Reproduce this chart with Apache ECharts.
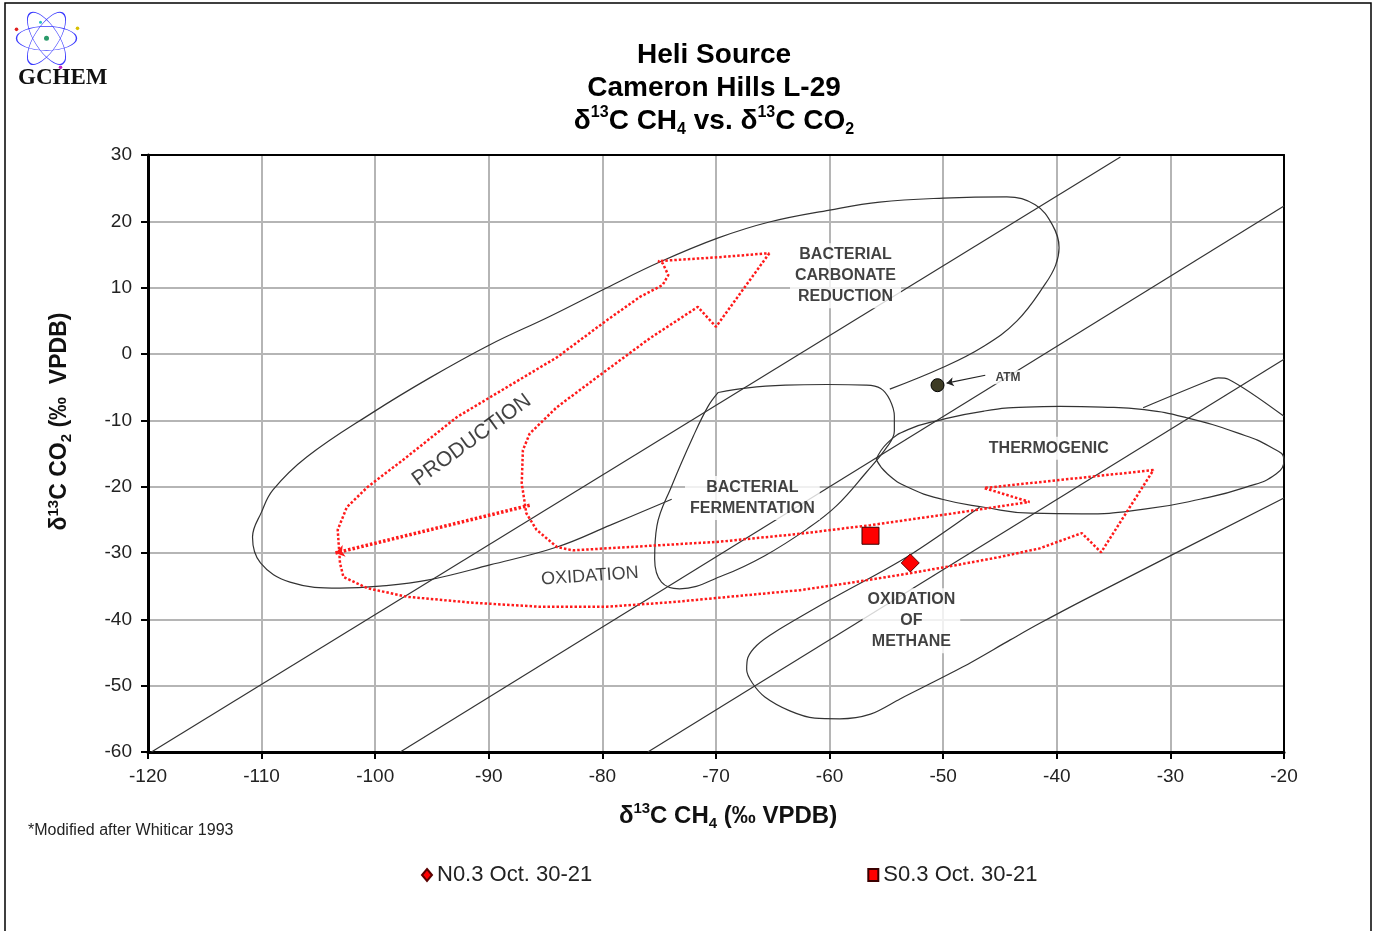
<!DOCTYPE html>
<html>
<head>
<meta charset="utf-8">
<title>Heli Source - Cameron Hills L-29</title>
<script src="https://cdn.jsdelivr.net/npm/echarts@6/dist/echarts.min.js"></script>
<style>
  html, body { margin: 0; padding: 0; background: #fff; }
  #chart { width: 1376px; height: 931px; }
</style>
</head>
<body>
<div id="chart"></div>
<script>
// axes (d13C CH4 on x, d13C CO2 on y)
var xMin = -120, xMax = -20, xStep = 10;
var yMin = -60, yMax = 30, yStep = 10;

// samples
var sampleN = [[-52.9, -31.5]];
var sampleS = [[-56.4, -27.4]];
var atmPoint = [[-50.5, -4.7]];
var atmArrow = [[-46.3, -3.2], [-49.7, -4.4]];

// fractionation lines
var lineA = [[-119.7, -60], [-34.4, 29.7]];
var lineB = [[-97.8, -60], [-20, 22.3]];
var lineC = [[-76.0, -60], [-20, -0.8]];

// fields (after Whiticar 1993)
var carbonateField = [
  [-73.9, -21.9], [-79.3, -25.8], [-84.0, -29.1], [-89.9, -31.8], [-95.4, -34.1],
  [-99.6, -35.0], [-103.1, -35.3], [-107.5, -34.4], [-110.1, -31.5], [-110.8, -27.6],
  [-110.0, -23.8], [-109.0, -20.5], [-106.0, -15.5], [-100.2, -8.8], [-95.2, -3.6],
  [-89.9, 1.4], [-84.6, 5.7], [-79.6, 10.0], [-74.9, 13.9], [-69.8, 17.5],
  [-65.3, 19.9], [-60.0, 21.7], [-55.6, 22.9], [-50.0, 23.5], [-44.4, 23.7],
  [-41.9, 22.5], [-40.4, 19.5], [-39.8, 16.0], [-40.1, 13.4], [-41.0, 10.6],
  [-43.5, 5.0], [-46.5, 1.1], [-50.0, -2.0], [-54.7, -5.3]
];
var fermentationField = [
  [-69.8, -5.8], [-67.2, -5.1], [-63.9, -4.7], [-60.2, -4.6], [-56.8, -4.7],
  [-55.5, -5.2], [-54.7, -6.9], [-54.3, -9.4], [-54.3, -11.6], [-54.9, -13.9],
  [-56.8, -17.9], [-59.4, -22.9], [-62.0, -26.4], [-65.7, -30.4], [-69.4, -33.4],
  [-73.2, -35.4], [-74.8, -34.4], [-75.4, -30.9], [-75.2, -25.9], [-73.9, -19.9],
  [-72.0, -12.4], [-70.7, -7.9], [-69.8, -5.8]
];
var thermogenicField = [
  [-55.9, -15.9], [-54.9, -13.4], [-53.1, -11.4], [-50.1, -9.9], [-46.4, -8.6],
  [-42.7, -8.0], [-39.7, -7.9], [-36.0, -8.0], [-32.3, -8.4], [-28.6, -9.6],
  [-24.1, -11.9], [-21.1, -14.1], [-20.0, -15.9], [-20.7, -18.1], [-23.4, -20.1],
  [-27.4, -21.9], [-32.3, -23.4], [-37.8, -24.1], [-42.3, -24.0], [-46.4, -23.1],
  [-50.1, -21.9], [-53.1, -20.1], [-54.9, -18.1], [-55.9, -15.9]
];
var methaneOxField = [
  [-46.8, -23.1], [-53.2, -30.6], [-60.0, -37.1], [-64.8, -41.9], [-66.4, -43.9],
  [-67.2, -45.8], [-67.3, -47.6], [-66.8, -49.6], [-65.7, -51.7], [-63.5, -53.8],
  [-61.3, -54.9], [-59.1, -55.0], [-56.4, -54.3], [-53.8, -52.0], [-48.3, -47.2],
  [-44.1, -43.1], [-41.5, -40.6], [-37.3, -36.8], [-20.0, -21.7]
];
var humpEdge = [[-32.4, -8.1], [-26.6, -4.0], [-25.8, -3.6], [-24.9, -3.8], [-20.0, -9.4]];

// production / oxidation pathway (dotted outline)
var pathArrow = [
  [-65.3, 15.2], [-70.0, 4.1], [-71.6, 7.1], [-75.8, 2.4], [-79.6, -2.4],
  [-84.0, -8.0], [-86.4, -12.0], [-87.0, -14.5], [-87.1, -19.5], [-86.7, -24.0],
  [-85.8, -26.5], [-84.0, -29.1], [-82.6, -29.6], [-69.7, -28.3], [-62.6, -27.1],
  [-56.4, -25.8], [-49.4, -24.1], [-42.4, -22.3], [-46.4, -20.2], [-31.5, -17.5],
  [-36.1, -29.9], [-37.8, -27.0], [-41.5, -29.3], [-45.0, -30.6], [-49.4, -32.0],
  [-53.8, -33.3], [-58.2, -34.5], [-62.6, -35.6], [-68.8, -36.6], [-73.8, -37.4],
  [-79.6, -38.1], [-85.5, -38.1], [-91.4, -37.5], [-97.2, -36.6], [-100.7, -35.3],
  [-102.8, -33.6], [-103.1, -31.5], [-103.3, -26.5], [-102.5, -23.1], [-100.7, -20.1],
  [-97.2, -15.5], [-92.8, -9.5], [-88.4, -5.0], [-84.0, -0.5], [-79.6, 5.1],
  [-76.7, 8.6], [-74.7, 10.4], [-74.2, 11.9], [-74.7, 13.7], [-75.1, 14.0],
  [-69.7, 14.6], [-65.3, 15.2]
];
var pathInner = [[-86.4, -22.8], [-103.5, -30.0]];

// field labels
var boxedLabels = [
  { name: 'BACTERIAL\nCARBONATE\nREDUCTION', value: [-58.6, 11.8] },
  { name: 'BACTERIAL\nFERMENTATION', value: [-66.8, -21.7] },
  { name: 'THERMOGENIC', value: [-40.7, -14.2] },
  { name: 'OXIDATION\nOF\nMETHANE', value: [-52.8, -40.2] }
];
var atmLabel = [{ name: 'ATM', value: [-44.3, -3.5] }];
var productionLabel = [{ name: 'PRODUCTION', value: [-91.5, -13.0] }];
var oxidationLabel = [{ name: 'OXIDATION', value: [-81.1, -33.5] }];

var FONT = 'Liberation Sans, Arial, sans-serif';
var chart = echarts.init(document.getElementById('chart'));

function field(data, smooth) {
  return {
    type: 'line', data: data, smooth: smooth, symbol: 'none', silent: true, z: 2,
    lineStyle: { color: '#333', width: 1.2 }
  };
}

function textSeries(data, label, z) {
  return {
    type: 'scatter', data: data, symbolSize: 0.1, silent: true, z: z,
    itemStyle: { color: 'rgba(0,0,0,0)' },
    label: Object.assign({ show: true, position: 'inside', formatter: '{b}', fontFamily: FONT }, label)
  };
}

function richName(size, lh) {
  return {
    t: { fontSize: size, fontWeight: 'bold', fontFamily: FONT, color: '#111', lineHeight: lh },
    sp: { fontSize: 15, fontWeight: 'bold', fontFamily: FONT, color: '#111', verticalAlign: 'top', lineHeight: 15 },
    sb: { fontSize: 15, fontWeight: 'bold', fontFamily: FONT, color: '#111', verticalAlign: 'bottom', lineHeight: 15 }
  };
}

// frame-only axes for the black top / right border
var frameAxis = {
  show: true, axisLine: { onZero: false, lineStyle: { color: '#000', width: 2 } },
  axisTick: { show: false }, axisLabel: { show: false }, splitLine: { show: false }
};

chart.setOption({
  animation: false,
  title: {
    left: 709, top: 34, textAlign: 'center',
    text: '{t|Heli Source}\n{t|Cameron Hills L-29}\n{t|δ}{sp|13}{t|C CH}{sb|4}{t| vs. δ}{sp|13}{t|C CO}{sb|2}',
    textStyle: {
      rich: {
        t: { fontSize: 28, fontWeight: 'bold', fontFamily: FONT, color: '#000', lineHeight: 33 },
        sp: { fontSize: 16, fontWeight: 'bold', fontFamily: FONT, color: '#000', verticalAlign: 'top', lineHeight: 16 },
        sb: { fontSize: 16, fontWeight: 'bold', fontFamily: FONT, color: '#000', verticalAlign: 'bottom', lineHeight: 16 }
      }
    }
  },
  legend: {
    left: 416, top: 859, itemGap: 275, itemWidth: 10, itemHeight: 12,
    textStyle: { fontSize: 22, color: '#222', fontFamily: FONT },
    data: [
      { name: 'N0.3 Oct. 30-21', icon: 'diamond' },
      { name: 'S0.3 Oct. 30-21', icon: 'rect' }
    ]
  },
  grid: { left: 148, right: 92, top: 155, bottom: 179 },
  xAxis: [{
    type: 'value', min: xMin, max: xMax, interval: xStep,
    name: '{t|δ}{sp|13}{t|C CH}{sb|4}{t| (‰ VPDB)}',
    nameLocation: 'middle', nameGap: 49,
    nameTextStyle: { rich: richName(24, 30), padding: [0, 0, 0, 24] },
    axisLine: { onZero: false, lineStyle: { color: '#000', width: 3 } },
    axisTick: { length: 7, lineStyle: { color: '#000', width: 2 } },
    axisLabel: { fontSize: 19, color: '#222', margin: 15, fontFamily: FONT },
    splitLine: { lineStyle: { color: '#b5b5b5', width: 2 } }
  }, Object.assign({ type: 'value', position: 'top', min: xMin, max: xMax }, frameAxis)],
  yAxis: [{
    type: 'value', min: yMin, max: yMax, interval: yStep,
    name: '{t|δ}{sp|13}{t|C CO}{sb|2}{t| (‰  VPDB)}',
    nameLocation: 'middle', nameGap: 74, nameRotate: 90,
    nameTextStyle: { rich: richName(23, 28), padding: [0, 0, 0, 64] },
    axisLine: { onZero: false, lineStyle: { color: '#000', width: 3 } },
    axisTick: { length: 7, lineStyle: { color: '#000', width: 2 } },
    axisLabel: { fontSize: 19, color: '#222', margin: 16, fontFamily: FONT },
    splitLine: { lineStyle: { color: '#b5b5b5', width: 2 } }
  }, Object.assign({ type: 'value', position: 'right', min: yMin, max: yMax }, frameAxis)],
  graphic: [
    { type: 'rect', shape: { x: 5, y: 3, width: 1366, height: 940 }, style: { fill: 'none', stroke: '#000', lineWidth: 1.5 }, z: -1 },
    {
      type: 'group', left: 14, top: 4,
      children: [
        { type: 'circle', x: 34, y: 28, shape: { r: 30 }, scaleY: 0.4, style: { fill: 'none', stroke: '#3a3aff', lineWidth: 1.4 } },
        { type: 'circle', x: 34, y: 28, shape: { r: 30 }, scaleY: 0.4, rotation: 1.0, style: { fill: 'none', stroke: '#3a3aff', lineWidth: 1.4 } },
        { type: 'circle', x: 34, y: 28, shape: { r: 30 }, scaleY: 0.4, rotation: -1.0, style: { fill: 'none', stroke: '#3a3aff', lineWidth: 1.4 } },
        { type: 'circle', shape: { cx: 34, cy: 28, r: 2.5 }, style: { fill: '#2a9a6a' } },
        { type: 'circle', shape: { cx: 65, cy: 18, r: 1.8 }, style: { fill: '#d8c000' } },
        { type: 'circle', shape: { cx: 4, cy: 19, r: 1.8 }, style: { fill: '#e02020' } },
        { type: 'circle', shape: { cx: 48, cy: 57, r: 1.8 }, style: { fill: '#c020c0' } },
        { type: 'circle', shape: { cx: 28, cy: 12, r: 1.5 }, style: { fill: '#20c0c0' } }
      ]
    },
    { type: 'text', left: 18, top: 67, style: { text: 'GCHEM', font: 'bold 23px "Liberation Serif", serif', fill: '#111' } },
    { type: 'text', left: 28, top: 823, style: { text: '*Modified after Whiticar 1993', font: '16px ' + FONT, fill: '#222' } }
  ],
  series: [
    field(lineA, false),
    field(lineB, false),
    field(lineC, false),
    field(carbonateField, 0.4),
    field(fermentationField, 0.4),
    field(thermogenicField, 0.5),
    field(methaneOxField, 0.3),
    field(humpEdge, 0.3),
    {
      type: 'line', data: pathArrow, smooth: false, symbol: 'none', silent: true, z: 3,
      lineStyle: { color: '#ff1a1a', width: 2.5, type: [2.5, 2] }
    },
    {
      type: 'lines', coordinateSystem: 'cartesian2d', silent: true, z: 3,
      symbol: ['none', 'arrow'], symbolSize: 9,
      lineStyle: { color: '#ff1a1a', width: 3.5, type: [2.5, 2], opacity: 1, curveness: 0 },
      data: [{ coords: pathInner }]
    },
    {
      type: 'lines', coordinateSystem: 'cartesian2d', silent: true, z: 4,
      symbol: ['none', 'arrow'], symbolSize: 7,
      lineStyle: { color: '#222', width: 1.2, opacity: 1, curveness: 0 },
      data: [{ coords: atmArrow }]
    },
    textSeries(boxedLabels, { fontSize: 16, fontWeight: 'bold', color: '#111', lineHeight: 21, backgroundColor: '#fff', padding: [1, 5] }, 6),
    textSeries(atmLabel, { fontSize: 12, fontWeight: 'bold', color: '#111', backgroundColor: '#fff', padding: [1, 3] }, 6),
    textSeries(productionLabel, { fontSize: 21, color: '#111', rotate: 36 }, 6),
    textSeries(oxidationLabel, { fontSize: 18, color: '#111', rotate: 4 }, 6),
    {
      type: 'scatter', data: atmPoint, symbol: 'circle', symbolSize: 13, silent: true, z: 7,
      itemStyle: { color: '#3d3b24', borderColor: '#000', borderWidth: 1, opacity: 1 }
    },
    {
      name: 'N0.3 Oct. 30-21', type: 'scatter', data: sampleN, symbol: 'diamond', symbolSize: 18, z: 8,
      itemStyle: { color: '#ff0000', borderColor: '#5a0000', borderWidth: 1, opacity: 1 }
    },
    {
      name: 'S0.3 Oct. 30-21', type: 'scatter', data: sampleS, symbol: 'rect', symbolSize: 17, z: 8,
      itemStyle: { color: '#ff0000', borderColor: '#3a0000', borderWidth: 1, opacity: 1 }
    }
  ]
});
</script>
</body>
</html>
